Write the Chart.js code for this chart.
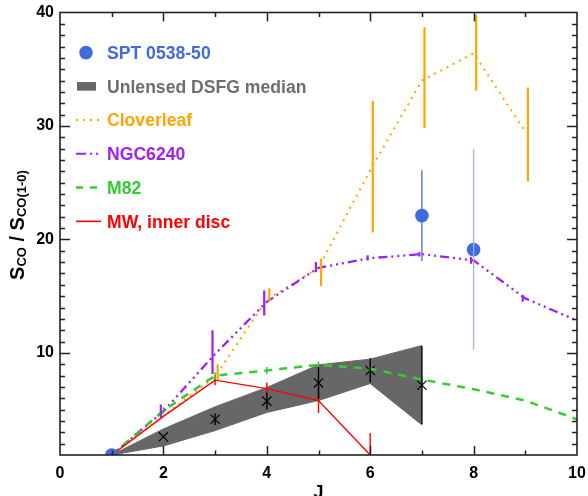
<!DOCTYPE html>
<html>
<head>
<meta charset="utf-8">
<script src="https://cdn.jsdelivr.net/npm/chart.js@4"></script>
<style>
  html, body { margin: 0; padding: 0; background: #fff; }
</style>
</head>
<body>
<canvas id="coChart" width="588" height="496"></canvas>
<script>
// ---- data ----
const J = [1, 2, 3, 4, 5, 6, 7, 8, 9, 10];
const xTicks = [0, 2, 4, 6, 8, 10];
const yTicks = [10, 20, 30, 40];

const sptJ = [1, 7, 8];
const sptVal = [1.0, 22.1, 19.1];
const sptErr = [0, 4.0, 8.85];

const dsfgJ = [1, 2, 3, 4, 5, 6, 7];
const dsfgMed = [1.0, 2.6, 4.15, 5.75, 7.35, 8.45, 7.15];
const dsfgErr = [0, 0, 0.5, 0.75, 1.4, 1.07, 3.45];
const dsfgLo = [1.0, 1.8, 3.15, 4.75, 5.8, 7.3, 3.65];
const dsfgHi = [1.0, 3.3, 5.25, 6.95, 8.95, 9.45, 10.65];

const cloverJ = [1, 3, 4, 5, 6, 7, 8, 9];
const cloverVal = [1.0, 7.9, 14.7, 17.5, 26.1, 34.0, 36.4, 29.5];
const cloverLo = [1.0, 7.6, 14.5, 15.9, 20.6, 29.8, 33.1, 25.1];
const cloverHi = [1.0, 9.0, 15.7, 18.3, 32.2, 38.7, 39.8, 33.4];

const ngcVal = [1.0, 4.85, 9.9, 14.5, 17.5, 18.35, 18.7, 18.15, 14.8, 12.85];
const ngcLo = [1.0, 4.25, 8.15, 13.3, 17.1, 18.15, 18.5, 17.85, 14.5, 12.85];
const ngcHi = [1.0, 5.45, 12.0, 15.5, 18.0, 18.6, 18.9, 18.45, 15.1, 12.85];

const m82Val = [1.0, 4.9, 8.0, 8.45, 8.95, 8.6, 7.65, 6.8, 5.8, 4.15];
const m82Err = [0, 0.3, 0.3, 0.3, 0.3, 0.3, 0.3, 0, 0, 0];

const mwJ = [1, 2, 3, 4, 5, 6];
const mwVal = [1.0, 4.4, 7.6, 6.85, 5.8, 1.0];
const mwErr = [0, 0, 0.45, 0.55, 1.1, 1.95];

const FONT = '"Liberation Sans", Arial, Helvetica, sans-serif';
const BLUE = '#4169e1', GRAY = '#676767', ORANGE = '#ffa500',
      PURPLE = '#a020f0', GREEN = '#32cd32', RED = '#ff0000';

const pts = (xs, ys) => xs.map((x, i) => ({ x: x, y: ys[i] }));
const sym = (v, e) => [v.map((y, i) => y - e[i]), v.map((y, i) => y + e[i])];

// vertical error bars, drawn through the chart scales
const errorBars = {
  id: 'errorBars',
  afterDatasetsDraw(chart) {
    const { ctx, chartArea: a, scales: { x, y } } = chart;
    ctx.save();
    ctx.beginPath();
    ctx.rect(a.left, a.top, a.right - a.left, a.bottom - a.top);
    ctx.clip();
    chart.data.datasets.forEach(ds => {
      if (!ds.errLo) return;
      ds.data.forEach((p, i) => {
        const lo = ds.errLo[i], hi = ds.errHi[i];
        if (hi - lo <= 0) return;
        const px = x.getPixelForValue(p.x + (ds.errShift || 0));
        ctx.strokeStyle = Array.isArray(ds.errColor) ? ds.errColor[i] : ds.errColor;
        ctx.lineWidth = ds.errWidth || 1.5;
        ctx.beginPath();
        ctx.moveTo(px, y.getPixelForValue(lo));
        ctx.lineTo(px, y.getPixelForValue(hi));
        ctx.stroke();
      });
    });
    ctx.restore();
  }
};

// box + inward ticks on all four sides
function drawFrame(chart) {
  const ctx = chart.ctx, a = chart.chartArea;
  const xs = chart.scales.x, ys = chart.scales.y;
  ctx.save();
  ctx.setLineDash([]);
  ctx.strokeStyle = '#222';
  ctx.lineWidth = 1.5;
  for (let v = 1; v < 10; v++) {
    const px = Math.round(xs.getPixelForValue(v)) + 0.5;
    const len = v % 2 === 0 ? 9 : 4.5;
    ctx.beginPath();
    ctx.moveTo(px, a.bottom); ctx.lineTo(px, a.bottom - len);
    ctx.moveTo(px, a.top); ctx.lineTo(px, a.top + len);
    ctx.stroke();
  }
  for (let v = 2; v < 40; v++) {
    const py = Math.round(ys.getPixelForValue(v)) + 0.5;
    const len = v % 10 === 0 ? 10 : 5;
    ctx.beginPath();
    ctx.moveTo(a.left, py); ctx.lineTo(a.left + len, py);
    ctx.moveTo(a.right, py); ctx.lineTo(a.right - len, py);
    ctx.stroke();
  }
  ctx.lineWidth = 1.6;
  ctx.strokeRect(a.left, a.top, a.right - a.left, a.bottom - a.top);
  ctx.restore();
}

// axis titles and the in-plot legend
const labels = {
  id: 'labels',
  afterDraw(chart) {
    const { ctx, chartArea: a } = chart;
    drawFrame(chart);
    ctx.save();
    // x title
    ctx.fillStyle = '#000';
    ctx.font = 'bold 18px ' + FONT;
    ctx.textAlign = 'center';
    ctx.textBaseline = 'alphabetic';
    ctx.fillText('J', (a.left + a.right) / 2, 498);

    // y title with subscripts
    const big = 'bold 20px ' + FONT, small = 'bold 13px ' + FONT;
    const parts = [['S', big, 0], ['CO', small, 1.5], [' / ', big, 0], ['S', big, 0], ['CO(1-0)', small, 1.5]];
    ctx.translate(24, 225);
    ctx.rotate(-Math.PI / 2);
    ctx.textAlign = 'left';
    let total = 0;
    parts.forEach(p => { ctx.font = p[1]; total += ctx.measureText(p[0]).width; });
    let cx = -total / 2;
    parts.forEach(p => {
      ctx.font = p[1];
      ctx.fillText(p[0], cx, p[2]);
      cx += ctx.measureText(p[0]).width;
    });
    ctx.restore();

    // legend
    ctx.save();
    ctx.font = 'bold 17.6px ' + FONT;
    ctx.textAlign = 'left';
    ctx.textBaseline = 'alphabetic';
    const rows = [
      ['SPT 0538-50', BLUE, 'dot'],
      ['Unlensed DSFG median', '#6e6e6e', 'box'],
      ['Cloverleaf', ORANGE, [2, 5], 2],
      ['NGC6240', PURPLE, [10, 4, 2, 4, 2, 4], 2],
      ['M82', GREEN, [7, 7], 2.5],
      ['MW, inner disc', RED, [], 1.6]
    ];
    rows.forEach((r, i) => {
      const base = 58.8 + i * 33.75;
      const mid = base - 6.2;
      ctx.fillStyle = r[1];
      ctx.strokeStyle = r[1];
      if (r[2] === 'dot') {
        ctx.beginPath();
        ctx.arc(86, mid, 6.8, 0, Math.PI * 2);
        ctx.fill();
      } else if (r[2] === 'box') {
        ctx.fillStyle = GRAY;
        ctx.fillRect(77, mid - 4.3, 19, 8.6);
        ctx.fillStyle = r[1];
      } else {
        ctx.setLineDash(r[2]);
        ctx.lineWidth = r[3];
        ctx.beginPath();
        ctx.moveTo(76, mid);
        ctx.lineTo(101, mid);
        ctx.stroke();
        ctx.setLineDash([]);
      }
      ctx.fillText(r[0], 107, base);
    });
    ctx.restore();
  }
};

const line = (label, xs, ys, color, dash, width) => ({
  label: label,
  data: pts(xs, ys),
  borderColor: color,
  borderDash: dash,
  borderWidth: width,
  pointRadius: 0,
  pointHoverRadius: 0,
  fill: false,
  tension: 0
});

const [m82Lo, m82Hi] = sym(m82Val, m82Err);
const [mwLo, mwHi] = sym(mwVal, mwErr);
const [sptLo, sptHi] = sym(sptVal, sptErr);
const [dsfgBarLo, dsfgBarHi] = sym(dsfgMed, dsfgErr);

const datasets = [
  {
    label: 'SPT 0538-50',
    data: pts(sptJ, sptVal),
    showLine: false,
    pointRadius: 6.8,
    pointHoverRadius: 6.8,
    pointBackgroundColor: BLUE,
    pointBorderWidth: 0,
    clip: 0,
    errLo: sptLo, errHi: sptHi,
    errColor: [BLUE, BLUE, '#9fb1ef'], errWidth: 1.3
  },
  Object.assign(line('MW, inner disc', mwJ, mwVal, RED, [], 1.4),
    { errLo: mwLo, errHi: mwHi, errColor: RED, errWidth: 1.4 }),
  Object.assign(line('M82', J, m82Val, GREEN, [8, 7], 2.5),
    { errLo: m82Lo, errHi: m82Hi, errColor: GREEN, errWidth: 1.5 }),
  Object.assign(line('NGC6240', J, ngcVal, PURPLE, [9, 4, 2, 4, 2, 4, 2, 4], 2.3),
    { errLo: ngcLo, errHi: ngcHi, errColor: PURPLE, errWidth: 2.2, errShift: -0.05 }),
  Object.assign(line('Cloverleaf', cloverJ, cloverVal, ORANGE, [2, 5], 2),
    { errLo: cloverLo, errHi: cloverHi, errColor: ORANGE, errWidth: 2.2, errShift: 0.05 }),
  {
    label: 'DSFG points',
    data: pts(dsfgJ, dsfgMed),
    showLine: false,
    pointStyle: 'crossRot',
    pointRadius: 6.5,
    pointHoverRadius: 6.5,
    pointBorderColor: '#000',
    pointBorderWidth: 1.2,
    errLo: dsfgBarLo, errHi: dsfgBarHi, errColor: '#000', errWidth: 1.4
  },
  {
    label: 'Unlensed DSFG median',
    data: pts(dsfgJ, dsfgHi),
    borderColor: GRAY,
    borderWidth: 1,
    backgroundColor: GRAY,
    pointRadius: 0,
    pointHoverRadius: 0,
    fill: '+1',
    tension: 0
  },
  {
    label: 'DSFG low',
    data: pts(dsfgJ, dsfgLo),
    borderColor: GRAY,
    borderWidth: 1,
    pointRadius: 0,
    pointHoverRadius: 0,
    fill: false,
    tension: 0
  }
];

new Chart(document.getElementById('coChart').getContext('2d'), {
  type: 'line',
  data: { datasets: datasets },
  plugins: [errorBars, labels],
  options: {
    responsive: false,
    animation: false,
    events: [],
    layout: { padding: { top: 12.5, right: 11, left: 0, bottom: 0 } },
    plugins: { legend: { display: false }, tooltip: { enabled: false } },
    scales: {
      x: {
        type: 'linear',
        min: 0,
        max: 10,
        afterBuildTicks: s => { s.ticks = xTicks.map(v => ({ value: v })); },
        afterFit: s => { s.height = 41; s.paddingLeft = 0; s.paddingRight = 0; },
        grid: { display: false, drawTicks: false },
        border: { display: false },
        ticks: { color: '#000', padding: 9, maxRotation: 0, font: { family: FONT, size: 16, weight: 'bold' } }
      },
      y: {
        type: 'linear',
        min: 1,
        max: 40,
        afterBuildTicks: s => { s.ticks = yTicks.map(v => ({ value: v })); },
        afterFit: s => { s.width = 60; s.paddingTop = 0; s.paddingBottom = 0; },
        grid: { display: false, drawTicks: false },
        border: { display: false },
        ticks: { color: '#000', padding: 6, font: { family: FONT, size: 16, weight: 'bold' } }
      }
    }
  }
});
</script>
</body>
</html>
